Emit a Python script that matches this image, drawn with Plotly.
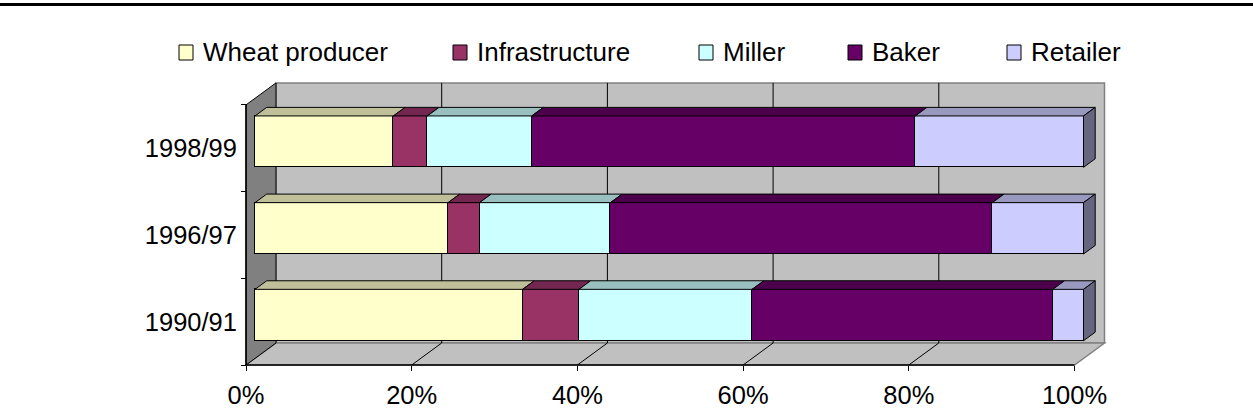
import plotly.graph_objects as go

# ---- data: share of bread price by sector (%) ----
years = ["1990/91", "1996/97", "1998/99"]
series_names = ["Wheat producer", "Infrastructure", "Miller", "Baker", "Retailer"]
wheat_producer = [32.3, 23.3, 16.7]
infrastructure = [6.8, 3.8, 4.1]
miller = [20.9, 15.8, 12.6]
baker = [36.3, 46.1, 46.3]
retailer = [3.7, 11.0, 20.3]
pct_ticks = [0, 20, 40, 60, 80, 100]

series_values = [wheat_producer, infrastructure, miller, baker, retailer]
front_colors = ["#FFFFCC", "#993366", "#CCFFFF", "#660066", "#CCCCFF"]
top_colors = ["#BFBF99", "#732650", "#99BFBF", "#4C004C", "#9999BF"]
side_color = "#666680"

# ---- page / plot-area geometry (pixels) ----
FIG_W, FIG_H = 1253, 420
PL, PR, PT, PB = 236, 1116, 76, 372
SX = 8.285          # px per percentage point
SY = 86.7           # px per category slot
X0, Y0 = 246, 365   # front edge of floor: 0% / lower category boundary
SLOPE = 0.733       # vertical rise per px of depth
BAR_D0, BAR_D1, WALL_D = 9.0, 20.7, 30.0   # depths: bar front, bar back, back wall
BAR_W = 51.4 / SY   # bar thickness in category units
FONT = "Liberation Sans, Arial, sans-serif"
AXIS_FONT_SIZE = 25.5
LEGEND_FONT_SIZE = 26

BX0 = X0 + BAR_D0
BY0 = Y0 - BAR_D0 * SLOPE


def pt(v, c, d):
    """Value/category/depth -> coordinates of the bar-front plane axes."""
    return v + (d - BAR_D0) / SX, c + (d - BAR_D0) * SLOPE / SY


def poly_path(points):
    return "M " + " L ".join(f"{x},{y}" for x, y in points) + " Z"


def px_x(px):
    return (px - PL) / (PR - PL)


def px_y(py):
    return (PB - py) / (PB - PT)


n_cat = len(years)
c_lo, c_hi = -0.5, n_cat - 0.5
fig = go.Figure()

# ---- walls, floor and grid ----
shapes = []
floor = [pt(0, c_lo, 0), pt(100, c_lo, 0), pt(100, c_lo, WALL_D), pt(0, c_lo, WALL_D)]
left_wall = [pt(0, c_lo, 0), pt(0, c_hi, 0), pt(0, c_hi, WALL_D), pt(0, c_lo, WALL_D)]
back_wall = [pt(0, c_lo, WALL_D), pt(100, c_lo, WALL_D), pt(100, c_hi, WALL_D), pt(0, c_hi, WALL_D)]
shapes.append(dict(type="path", path=poly_path(back_wall), fillcolor="#C0C0C0",
                   line=dict(color="#808080", width=1.5), layer="below", xref="x", yref="y"))
shapes.append(dict(type="path", path=poly_path(floor), fillcolor="#C0C0C0",
                   line=dict(color="#808080", width=1.5), layer="below", xref="x", yref="y"))
shapes.append(dict(type="path", path=poly_path(left_wall), fillcolor="#808080",
                   line=dict(color="#000000", width=1), layer="below", xref="x", yref="y"))
for v in pct_ticks[1:-1]:
    (xa, ya), (xb, yb) = pt(v, c_lo, WALL_D), pt(v, c_hi, WALL_D)
    shapes.append(dict(type="line", x0=xa, y0=ya, x1=xb, y1=yb, xref="x", yref="y",
                       line=dict(color="#000000", width=1), layer="below"))
    (xa, ya), (xb, yb) = pt(v, c_lo, 0), pt(v, c_lo, WALL_D)
    shapes.append(dict(type="line", x0=xa, y0=ya, x1=xb, y1=yb, xref="x", yref="y",
                       line=dict(color="#000000", width=1), layer="below"))
# axis edges on the front plane
(xa, ya), (xb, yb) = pt(0, c_lo, 0), pt(100, c_lo, 0)
shapes.append(dict(type="line", x0=xa, y0=ya, x1=xb, y1=yb, xref="x", yref="y",
                   line=dict(color="#000000", width=1.5)))
(xa, ya), (xb, yb) = pt(0, c_lo, 0), pt(0, c_hi, 0)
shapes.append(dict(type="line", x0=xa, y0=ya, x1=xb, y1=yb, xref="x", yref="y",
                   line=dict(color="#000000", width=1.5)))

# rule across the top of the page
shapes.append(dict(type="line", xref="paper", yref="paper", x0=px_x(0), x1=px_x(FIG_W),
                   y0=px_y(4.5), y1=px_y(4.5), line=dict(color="#000000", width=3)))

# ---- bars: front faces ----
cat_pos = list(range(n_cat))
for name, vals, col in zip(series_names, series_values, front_colors):
    fig.add_trace(go.Bar(
        y=cat_pos, x=vals, name=name, orientation="h", width=BAR_W,
        marker=dict(color=col, line=dict(color="#000000", width=1)),
        showlegend=False, hoverinfo="skip"))

# ---- bars: top faces and end face ----
ddx = (BAR_D1 - BAR_D0) / SX
ddy = (BAR_D1 - BAR_D0) * SLOPE / SY
starts = [0.0] * n_cat
for vals, col in zip(series_values, top_colors):
    xs, ys = [], []
    for i, v in enumerate(vals):
        a, b = starts[i], starts[i] + v
        top = cat_pos[i] + BAR_W / 2
        xs += [a, b, b + ddx, a + ddx, a, None]
        ys += [top, top, top + ddy, top + ddy, top, None]
        starts[i] = b
    fig.add_trace(go.Scatter(x=xs, y=ys, mode="lines", fill="toself", fillcolor=col,
                             line=dict(color="#000000", width=1),
                             showlegend=False, hoverinfo="skip"))
xs, ys = [], []
for i in range(n_cat):
    e = starts[i]
    lo, hi = cat_pos[i] - BAR_W / 2, cat_pos[i] + BAR_W / 2
    xs += [e, e + ddx, e + ddx, e, e, None]
    ys += [lo, lo + ddy, hi + ddy, hi, lo, None]
fig.add_trace(go.Scatter(x=xs, y=ys, mode="lines", fill="toself", fillcolor=side_color,
                         line=dict(color="#000000", width=1),
                         showlegend=False, hoverinfo="skip"))

# front-plane axes carry the tick marks and labels
fig.add_trace(go.Scatter(x=[0] * n_cat, y=years, xaxis="x2", yaxis="y2", mode="markers",
                         marker=dict(opacity=0), showlegend=False, hoverinfo="skip"))

# ---- legend row ----
legend_box_x = [179, 453, 699, 848, 1007]
annotations = []
for name, col, bx in zip(series_names, front_colors, legend_box_x):
    shapes.append(dict(type="rect", xref="paper", yref="paper",
                       x0=px_x(bx), x1=px_x(bx + 14), y0=px_y(60), y1=px_y(45),
                       fillcolor=col, line=dict(color="#000000", width=1)))
    annotations.append(dict(text=name, xref="paper", yref="paper", x=px_x(bx + 22), y=px_y(52),
                            xanchor="left", yanchor="middle", showarrow=False,
                            font=dict(family=FONT, size=LEGEND_FONT_SIZE, color="#000000")))

W_, H_ = PR - PL, PB - PT
fig.update_layout(
    width=FIG_W, height=FIG_H,
    margin=dict(l=PL, r=FIG_W - PR, t=PT, b=FIG_H - PB, pad=0),
    paper_bgcolor="#FFFFFF", plot_bgcolor="rgba(0,0,0,0)",
    barmode="stack", bargap=0,
    showlegend=False,
    shapes=shapes, annotations=annotations,
    font=dict(family=FONT, size=AXIS_FONT_SIZE, color="#000000"),
    xaxis=dict(range=[(PL - BX0) / SX, (PR - BX0) / SX], visible=False, fixedrange=True),
    yaxis=dict(range=[(BY0 - PB) / SY - 0.5, (BY0 - PT) / SY - 0.5], visible=False,
               fixedrange=True),
    xaxis2=dict(range=[(PL - X0) / SX, (PR - X0) / SX], overlaying="x", anchor="free",
                position=(PB - Y0) / H_, side="bottom",
                tickmode="array", tickvals=pct_ticks, ticktext=[f"{t}%" for t in pct_ticks],
                ticks="outside", ticklen=5, tickwidth=1, tickcolor="#000000",
                ticklabelstandoff=2,
                showgrid=False, zeroline=False, showline=False,
                tickfont=dict(family=FONT, size=AXIS_FONT_SIZE, color="#000000")),
    yaxis2=dict(type="category", categoryorder="array", categoryarray=years,
                range=[(Y0 - PB) / SY - 0.5, (Y0 - PT) / SY - 0.5],
                overlaying="y", anchor="free", position=(X0 - PL) / W_, side="left",
                tickson="boundaries", ticks="outside", ticklen=5, tickwidth=1,
                tickcolor="#000000", ticklabelstandoff=9,
                showgrid=False, zeroline=False, showline=False,
                tickfont=dict(family=FONT, size=AXIS_FONT_SIZE, color="#000000")),
)

fig.write_html("out.html")
